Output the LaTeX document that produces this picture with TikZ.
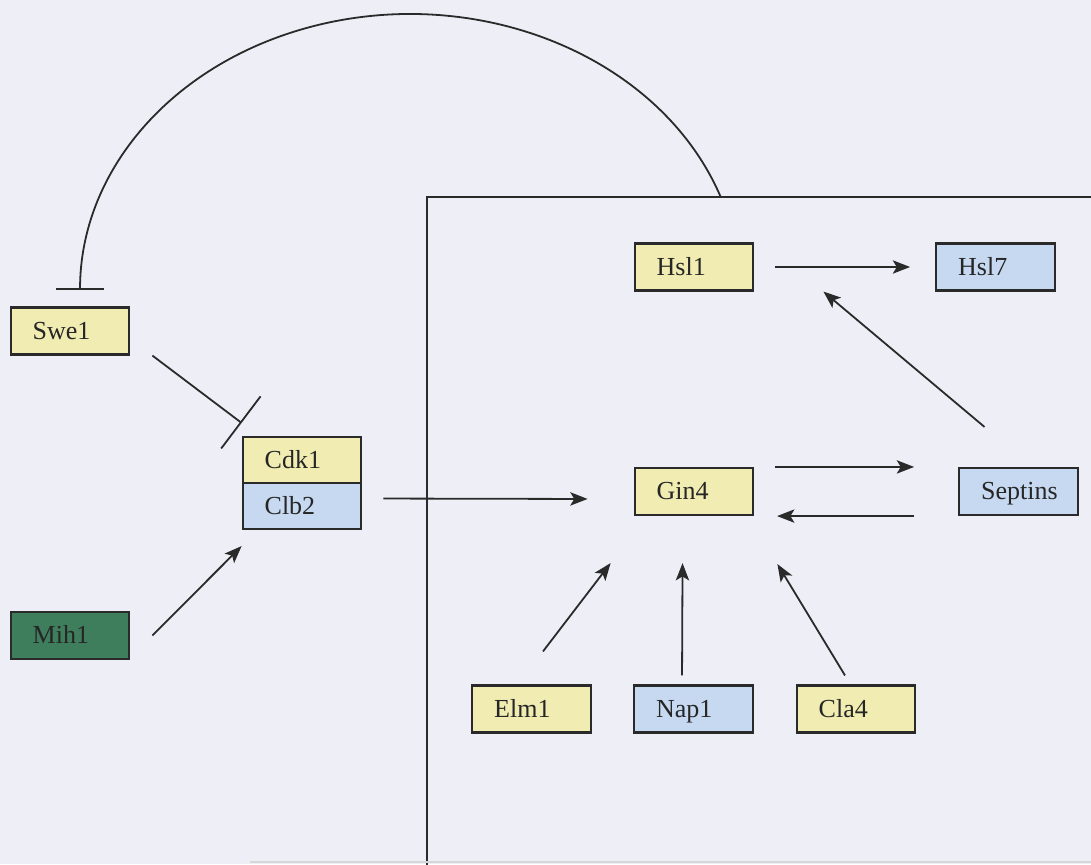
\documentclass[tikz,border=0pt]{standalone}
\usepackage{fontspec}
\setmainfont{Liberation Serif}
\usetikzlibrary{arrows.meta}
\definecolor{bg}{HTML}{EEEEF7}
\definecolor{yel}{HTML}{F1ECB2}
\definecolor{blu}{HTML}{C6D9F0}
\definecolor{grn}{HTML}{3E7E5C}
\definecolor{edge}{HTML}{2A2A2A}
\definecolor{txt}{HTML}{262626}
\tikzset{
  box/.style={draw=edge, line width=1.6pt, minimum width=88.5pt, minimum height=35.25pt,
    inner xsep=16.5pt, inner ysep=0pt, text width=56pt, align=left,
    text height=12.5pt, text depth=0pt, font=\fontsize{19.5}{19.5}\selectfont, text=txt},
  ybox/.style={box, fill=yel},
  bbox/.style={box, fill=blu},
  gbox/.style={box, fill=grn},
  conn/.style={draw=edge, line width=1.35pt},
  act/.style={conn, -{Stealth[length=13pt,width=10pt,inset=3pt]}},
  inhib/.style={conn, -{Bar[width=#1]}},
  cellline/.style={draw=edge, line width=1.4pt}
}
\begin{document}
\begin{tikzpicture}[x=0.75pt,y=-0.75pt]
\useasboundingbox (0,0) rectangle (1091,864);
\clip (0,0) rectangle (1091,864);
\fill[bg] (0,0) rectangle (1091,864);

% compartment outline
\draw[cellline] (1100,197) -- (427,197) -- (427,870);
\draw[line width=1.5pt, draw=black!16] (250,862) -- (1091,862);

% nodes
\node[ybox] (hsl1) at (694,267) {Hsl1};
\node[bbox] (hsl7) at (995.5,267) {Hsl7};
\node[ybox] (swe1) at (70,331) {Swe1};
\node[ybox, minimum height=34.5pt] (cdk1) at (302,460) {Cdk1};
\node[bbox, minimum height=34.5pt] (clb2) at (302,506) {Clb2};
\node[ybox] (gin4) at (694,491.5) {Gin4};
\node[bbox] (sept) at (1018.5,491.5) {Septins};
\node[gbox] (mih1) at (70,635.5) {Mih1};
\node[ybox] (elm1) at (531.5,709) {Elm1};
\node[bbox] (nap1) at (693.5,709) {Nap1};
\node[ybox] (cla4) at (856,709) {Cla4};

% arc inhibiting Swe1
\coordinate (arcS) at (720.7,197);
\draw[inhib=36pt] (arcS) arc[start angle=-19.7, end angle=-180, x radius=330, y radius=276];

% connectors
\draw[act] ([xshift=15.75pt]hsl1.east) -- ([xshift=-18.75pt]hsl7.west);
\draw[act] ([xshift=15.75pt]gin4.north east) -- ([xshift=-33pt]sept.north west);
\draw[act] ([xshift=-33pt]sept.south west) -- ([xshift=17pt]gin4.south east);
\draw[act] ([xshift=15.75pt,yshift=5.6pt]clb2.east) -- ([xshift=-34.5pt,yshift=-5.6pt]gin4.west);
\draw[act] ([xshift=-25.5pt,yshift=30pt]sept.north) -- ([xshift=51.75pt]hsl1.south east);
\draw[inhib=49pt] ([xshift=16.5pt]swe1.south east) -- ([yshift=9.75pt]cdk1.north west);
\draw[act] ([xshift=16.5pt]mih1.east) -- ([yshift=-12pt]clb2.south west);
\draw[act] ([xshift=8.6pt,yshift=24.75pt]elm1.north) -- ([xshift=-17.25pt,yshift=-35.25pt]gin4.south west);
\draw[act] ([xshift=-8.6pt,yshift=6.75pt]nap1.north) -- ([xshift=-8.6pt,yshift=-35.25pt]gin4.south);
\draw[act] ([xshift=-8.25pt,yshift=6.75pt]cla4.north) -- ([xshift=17.25pt,yshift=-36pt]gin4.south east);
\end{tikzpicture}
\end{document}
